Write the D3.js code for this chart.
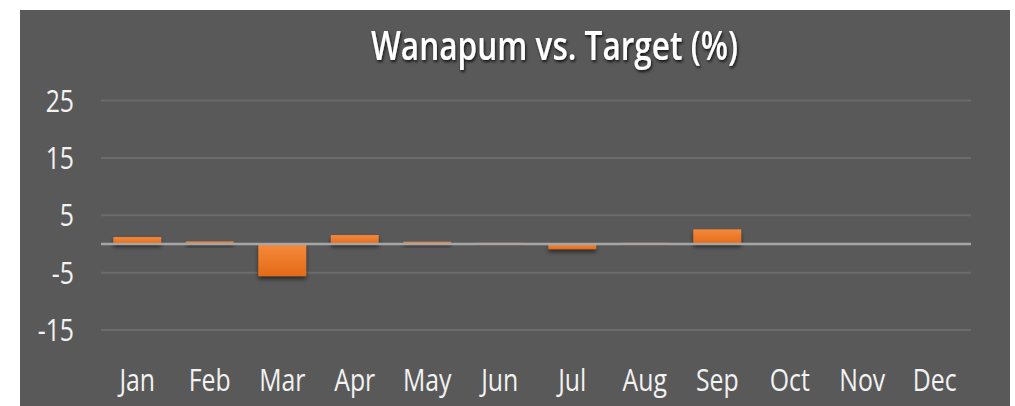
<!DOCTYPE html>
<html>
<head>
<meta charset="utf-8">
<script src="https://cdn.jsdelivr.net/npm/d3@7"></script>
<style>
    html, body { margin: 0; padding: 0; background: #ffffff; }
    svg { display: block; }
    text { font-family: "Open Sans", sans-serif; fill: #f2f2f2; }
</style>
</head>
<body>
<script>
"use strict";

///////////////////
// data
///////////////////

var months = ["Jan", "Feb", "Mar", "Apr", "May", "Jun", "Jul", "Aug", "Sep", "Oct", "Nov", "Dec"];
var diffPct = [1.2, 0.45, -5.6, 1.55, 0.4, 0.2, -0.9, 0.2, 2.55, 0, 0, 0];
var yTicks = [25, 15, 5, -5, -15];
var chartTitle = "Wanapum vs. Target (%)";

(function() {

    var W = 1015, H = 406;
    var plot = { left: 101, right: 971, top: 100.5, bottom: 387.5 };
    var sx = 0.8; // labels look horizontally squeezed

    var svg = d3.select("body")
        .append("svg")
        .attr("width", W)
        .attr("height", H);

    var defs = svg.append("defs");

    // bar gradient, a bit lighter on top
    var grad = defs.append("linearGradient")
        .attr("id", "barGrad")
        .attr("x1", 0).attr("y1", 0).attr("x2", 0).attr("y2", 1);
    grad.append("stop").attr("offset", "0%").attr("stop-color", "#f58a3c");
    grad.append("stop").attr("offset", "100%").attr("stop-color", "#e56a17");

    var shadow = defs.append("filter")
        .attr("id", "barShadow")
        .attr("x", "-20%").attr("y", "-50%")
        .attr("width", "140%").attr("height", "300%");
    shadow.append("feDropShadow")
        .attr("dx", 0).attr("dy", 3)
        .attr("stdDeviation", 2.2)
        .attr("flood-color", "#000")
        .attr("flood-opacity", 0.55);

    var tshadow = defs.append("filter")
        .attr("id", "titleShadow")
        .attr("x", "-10%").attr("y", "-30%")
        .attr("width", "120%").attr("height", "160%");
    tshadow.append("feDropShadow")
        .attr("dx", 1).attr("dy", 2)
        .attr("stdDeviation", 1.5)
        .attr("flood-color", "#000")
        .attr("flood-opacity", 0.8);

    // chart background
    svg.append("rect")
        .attr("x", 20)
        .attr("y", 10)
        .attr("width", 990)
        .attr("height", H)
        .attr("fill", "#595959");

    // scales
    var x = d3.scaleBand()
        .domain(months)
        .range([plot.left, plot.right])
        .paddingInner(0.34)
        .paddingOuter(0.17);

    var y = d3.scaleLinear()
        .domain([-25, 25])
        .range([plot.bottom, plot.top]);

    // gridlines
    svg.selectAll("line.grid")
        .data(yTicks)
        .enter()
        .append("line")
        .attr("class", "grid")
        .attr("x1", plot.left)
        .attr("x2", plot.right)
        .attr("y1", function(d) { return y(d); })
        .attr("y2", function(d) { return y(d); })
        .attr("stroke", "#6b6b6b")
        .attr("stroke-width", 2);

    // y labels
    svg.selectAll("text.ylab")
        .data(yTicks)
        .enter()
        .append("text")
        .attr("class", "ylab")
        .attr("transform", function(d) {
            return "translate(74," + (y(d) + 11) + ") scale(" + sx + ",1)";
        })
        .attr("text-anchor", "end")
        .style("font-size", "31px")
        .text(function(d) { return d; });

    var data = months.map(function(m, i) { return { month: m, value: diffPct[i] }; });

    // bars
    svg.selectAll("rect.bar")
        .data(data)
        .enter()
        .append("rect")
        .attr("class", "bar")
        .attr("x", function(d) { return x(d.month); })
        .attr("y", function(d) { return y(Math.max(0, d.value)); })
        .attr("width", x.bandwidth())
        .attr("height", function(d) { return Math.abs(y(d.value) - y(0)); })
        .attr("fill", "url(#barGrad)")
        .attr("filter", "url(#barShadow)");

    // zero line
    svg.append("line")
        .attr("x1", plot.left)
        .attr("x2", plot.right)
        .attr("y1", y(0))
        .attr("y2", y(0))
        .attr("stroke", "#a6a6a6")
        .attr("stroke-width", 2.5);

    // month labels
    svg.selectAll("text.xlab")
        .data(months)
        .enter()
        .append("text")
        .attr("class", "xlab")
        .attr("transform", function(d) {
            return "translate(" + (x(d) + x.bandwidth() / 2) + ",391) scale(" + sx + ",1)";
        })
        .attr("text-anchor", "middle")
        .style("font-size", "31px")
        .text(function(d) { return d; });

    // title
    svg.append("text")
        .attr("x", 371)
        .attr("y", 60)
        .attr("textLength", 367)
        .attr("lengthAdjust", "spacingAndGlyphs")
        .style("font-size", "39px")
        .style("font-weight", 600)
        .style("fill", "#ffffff")
        .attr("filter", "url(#titleShadow)")
        .text(chartTitle);

})();
</script>
</body>
</html>
